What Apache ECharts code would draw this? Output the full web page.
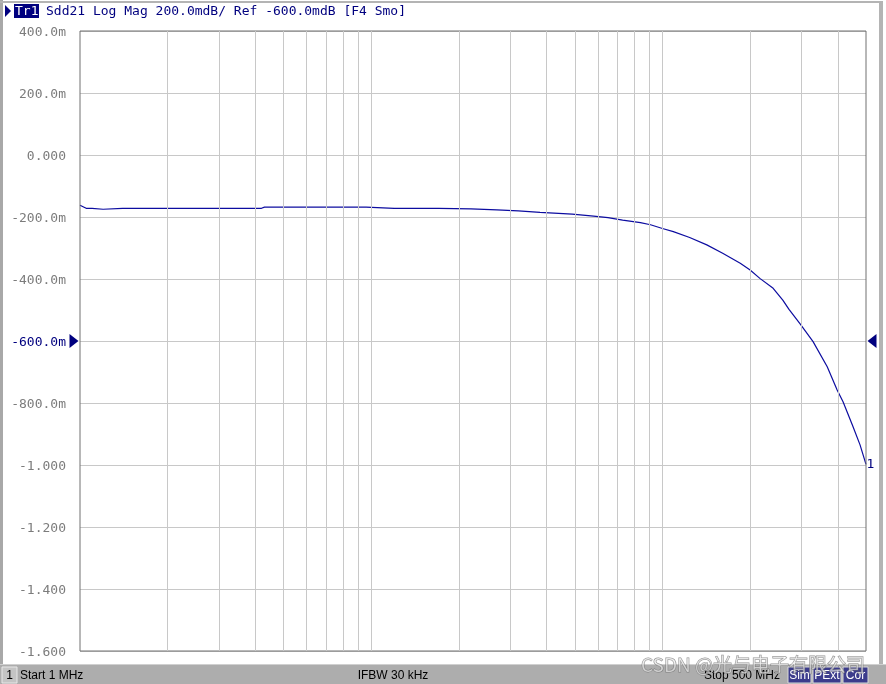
<!DOCTYPE html>
<html><head><meta charset="utf-8">
<script src="https://cdn.jsdelivr.net/npm/echarts@6/dist/echarts.min.js"></script>
<style>html,body{margin:0;padding:0;background:#fff}#c{width:886px;height:684px}</style>
</head><body><div id="c"></div>
<script>
// ---- data ----
const freqMHz = [1, 1.05, 1.1, 1.2, 1.4, 2, 3, 4.2, 4.3, 6, 8, 9.6, 9.7, 12, 15, 17, 22, 27, 32, 38, 44, 49, 58, 65, 73, 84, 91, 100, 109, 124, 142, 161, 185, 200, 216, 240, 259, 272, 297, 329, 368, 398, 417, 451, 477, 500];
const sdd21dB = [-0.162, -0.172, -0.172, -0.175, -0.172, -0.172, -0.172, -0.172, -0.168, -0.168, -0.168, -0.168, -0.172, -0.172, -0.172, -0.172, -0.174, -0.177, -0.180, -0.185, -0.188, -0.191, -0.197, -0.202, -0.210, -0.218, -0.225, -0.237, -0.247, -0.266, -0.290, -0.317, -0.349, -0.371, -0.398, -0.430, -0.468, -0.498, -0.545, -0.602, -0.683, -0.758, -0.796, -0.876, -0.935, -0.998];
const yTickLabels = ['400.0m', '200.0m', '0.000', '-200.0m', '-400.0m', '-600.0m', '-800.0m', '-1.000', '-1.200', '-1.400', '-1.600'];
const gridFreqs = [2, 3, 4, 5, 6, 7, 8, 9, 10, 20, 30, 40, 50, 60, 70, 80, 90, 100, 200, 300, 400];
const refLevel = -0.6;
const yMax = 0.4, yMin = -1.6, yStep = 0.2;
const traceName = 'Tr1';
const headerText = 'Sdd21 Log Mag 200.0mdB/ Ref -600.0mdB [F4 Smo]';
const startText = 'Start 1 MHz', ifbwText = 'IFBW 30 kHz', stopText = 'Stop 500 MHz';
const statusFlags = ['Sim', 'PExt', 'Cor'];
const watermark = 'CSDN @光与电子有限公司';

const NAVY = '#00007f';
const TRACE = '#0c0ca0';
const MONO = '13px "DejaVu Sans Mono"';
const SANS = '12px "Liberation Sans", Arial, sans-serif';

const chart = echarts.init(document.getElementById('c'), null, {renderer: 'canvas'});

const points = freqMHz.map((f, i) => [f, sdd21dB[i]]);

function yLabel(v) {
  const idx = Math.round((yMax - v) / yStep);
  const t = yTickLabels[idx] || '';
  return Math.abs(v - refLevel) < 1e-6 ? '{ref|' + t + '}' : t;
}

const flagWidths = [23, 28, 25];
let fx = 788;
const flagEls = [];
statusFlags.forEach((s, i) => {
  flagEls.push({type: 'rect', shape: {x: fx, y: 667, width: flagWidths[i], height: 16}, style: {fill: '#3c3c8c', stroke: '#d8d8d8', lineWidth: 1}, z: 20});
  flagEls.push({type: 'text', style: {text: s, x: fx + flagWidths[i] / 2, y: 675.5, align: 'center', verticalAlign: 'middle', fill: '#ffffff', font: SANS}, z: 21});
  fx += flagWidths[i] + 2;
});

const graphics = [
  {type: 'rect', shape: {x: 0, y: 0, width: 3, height: 665}, style: {fill: '#a8a8a8'}, z: 10},
  {type: 'rect', shape: {x: 0, y: 1, width: 882, height: 2}, style: {fill: '#b4b4b4'}, z: 10},
  {type: 'rect', shape: {x: 879, y: 1, width: 4, height: 664}, style: {fill: '#b4b4b4'}, z: 10},
  {type: 'rect', shape: {x: 883, y: 0, width: 3, height: 665}, style: {fill: '#ffffff'}, z: 10},
  {type: 'polygon', shape: {points: [[5, 5], [11, 11], [5, 17]]}, style: {fill: NAVY}, z: 10},
  {type: 'rect', shape: {x: 14, y: 4, width: 25, height: 14}, style: {fill: NAVY}, z: 10},
  {type: 'text', style: {text: traceName, x: 15, y: 11.5, verticalAlign: 'middle', fill: '#ffffff', font: MONO}, z: 11},
  {type: 'text', style: {text: headerText, x: 46, y: 11.5, verticalAlign: 'middle', fill: NAVY, font: MONO}, z: 11},
  {type: 'rect', shape: {x: 0, y: 664, width: 886, height: 1}, style: {fill: '#d0d0d0'}, z: 10},
  {type: 'rect', shape: {x: 0, y: 665, width: 886, height: 19}, style: {fill: '#adadad'}, z: 10},
  {type: 'rect', shape: {x: 2, y: 667, width: 15, height: 16}, style: {fill: '#c4c4c4', stroke: '#e8e8e8', lineWidth: 1}, z: 11},
  {type: 'text', style: {text: '1', x: 9.5, y: 675.5, align: 'center', verticalAlign: 'middle', fill: '#000000', font: SANS}, z: 12},
  {type: 'text', style: {text: startText, x: 20, y: 675.5, verticalAlign: 'middle', fill: '#000000', font: SANS}, z: 12},
  {type: 'text', style: {text: ifbwText, x: 393, y: 675.5, align: 'center', verticalAlign: 'middle', fill: '#000000', font: SANS}, z: 12},
  {type: 'text', style: {text: stopText, x: 780, y: 675.5, align: 'right', verticalAlign: 'middle', fill: '#000000', font: SANS}, z: 12},
  ...flagEls,
  {type: 'text', style: {text: watermark, x: 641, y: 665, verticalAlign: 'middle', fill: 'rgba(255,255,255,0.55)', stroke: 'rgba(110,110,110,0.75)', lineWidth: 1, font: '19px "Noto Sans CJK SC", "Noto Sans", sans-serif'}, z: 30}
];

const option = {
  animation: false,
  backgroundColor: '#ffffff',
  grid: {left: 80, top: 31, width: 786, height: 620, show: true, borderColor: '#707070', borderWidth: 1, backgroundColor: 'transparent', z: 5},
  xAxis: {
    type: 'log', logBase: 10, min: 1, max: 500,
    axisLine: {show: false}, axisTick: {show: false}, axisLabel: {show: false},
    splitLine: {show: false}, minorSplitLine: {show: false}
  },
  yAxis: {
    type: 'value', min: yMin, max: yMax, interval: yStep,
    axisLine: {show: false}, axisTick: {show: false},
    axisLabel: {
      formatter: yLabel, color: '#7c7c7c', fontFamily: 'DejaVu Sans Mono', fontSize: 13, margin: 14,
      padding: [4, 0, 0, 0],
      rich: {ref: {color: NAVY, fontFamily: 'DejaVu Sans Mono', fontSize: 13}}
    },
    splitLine: {show: true, lineStyle: {color: '#c8c8c8', width: 1}}
  },
  series: [
    {
      type: 'line', data: [], z: 1, silent: true,
      markLine: {
        silent: true, symbol: ['none', 'none'], animation: false,
        label: {show: false},
        lineStyle: {color: '#c8c8c8', width: 1, type: 'solid'},
        data: gridFreqs.map(f => ({xAxis: f}))
      }
    },
    {
      type: 'line', data: points, z: 3, symbol: 'none', silent: true,
      lineStyle: {color: TRACE, width: 1.2},
      clip: false,
      markPoint: {
        silent: true, animation: false,
        data: [
          {coord: [1, refLevel], symbol: 'path://M0,0L10,7L0,14Z', symbolSize: [9, 14], symbolOffset: [-6, 0], itemStyle: {color: NAVY}, label: {show: false}},
          {coord: [500, refLevel], symbol: 'path://M10,0L0,7L10,14Z', symbolSize: [9, 14], symbolOffset: [6, 0], itemStyle: {color: NAVY}, label: {show: false}},
          {coord: [500, sdd21dB[sdd21dB.length - 1]], symbol: 'circle', symbolSize: 1, itemStyle: {color: 'rgba(0,0,0,0)'},
            label: {show: true, formatter: '1', position: 'right', distance: 0, color: NAVY, fontFamily: 'DejaVu Sans Mono', fontSize: 13}}
        ]
      }
    }
  ],
  graphic: {elements: graphics}
};
chart.setOption(option);
</script></body></html>
